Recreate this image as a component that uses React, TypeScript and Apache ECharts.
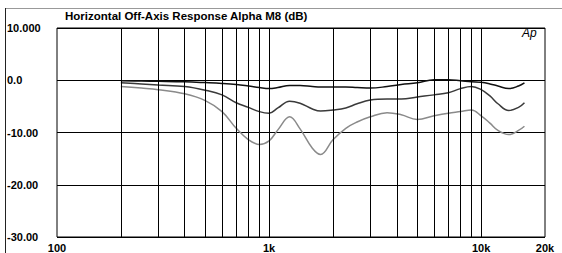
import React, { useEffect, useRef } from 'react';
import * as echarts from 'echarts';

const titleText = 'Horizontal Off-Axis Response Alpha M8 (dB)';
const logoText = 'Ap';

const freqs = [200, 250, 300, 400, 500, 600, 700, 800, 900, 1000, 1100, 1250, 1400, 1600, 1750, 2000, 2300, 2600, 3000, 3600, 4200, 5000, 6000, 7000, 8000, 9000, 10000, 11000, 12000, 13500, 15000, 16000];

const curveTop = [-0.1, -0.15, -0.2, -0.3, -0.45, -0.6, -0.8, -1.1, -1.4, -1.6, -1.4, -1.0, -1.0, -1.2, -1.3, -1.3, -1.3, -1.4, -1.5, -1.2, -0.8, -0.5, 0.1, 0.1, -0.1, -0.3, -0.4, -0.7, -1.1, -1.6, -1.1, -0.5];

const curveMid = [-0.5, -0.7, -0.9, -1.2, -1.9, -2.8, -4.3, -5.2, -6.0, -6.3, -5.3, -4.0, -4.4, -5.5, -5.9, -5.7, -5.3, -4.5, -3.8, -3.6, -3.6, -3.2, -2.8, -2.4, -1.6, -1.2, -1.8, -3.0, -4.5, -5.8, -5.2, -4.3];

const curveLow = [-1.2, -1.5, -1.8, -2.6, -3.9, -6.0, -9.2, -11.4, -12.3, -11.6, -9.5, -7.0, -9.3, -13.0, -14.2, -11.4, -9.2, -8.0, -7.0, -6.2, -6.6, -7.5, -6.8, -6.3, -6.0, -5.7, -6.8, -8.2, -9.6, -10.4, -9.6, -8.8];

const gridFreqs = [200, 300, 400, 500, 600, 700, 800, 900, 1000, 2000, 3000, 4000, 5000, 6000, 7000, 8000, 9000, 10000];

const xTickValues = [100, 1000, 10000, 20000];
const xTickLabels = ['100', '1k', '10k', '20k'];
const yTickValues = [10, 0, -10, -20, -30];
const yTickLabels = ['10.000', '0.0', '-10.00', '-20.00', '-30.00'];

const FONT = '"Liberation Sans", Arial, Helvetica, sans-serif';

export default function App() {
  const ref = useRef<HTMLDivElement>(null);
  useEffect(() => {
    if (!ref.current) return;
    const chart = echarts.init(ref.current, undefined, { renderer: 'svg' });
    const mk = (vals: number[]) => freqs.map((f, i) => [f, vals[i]]);
    chart.setOption({
      animation: false,
      backgroundColor: '#fff',
      textStyle: { fontFamily: FONT },
      title: {
        text: titleText,
        left: 65,
        top: 10,
        padding: 0,
        textStyle: { fontSize: 11.5, fontWeight: 'bold', color: '#000', fontFamily: FONT },
      },
      graphic: [
        { type: 'line', shape: { x1: 5, y1: 8.5, x2: 562, y2: 8.5 }, style: { stroke: '#999', lineWidth: 1 }, silent: true },
        { type: 'line', shape: { x1: 5.5, y1: 8, x2: 5.5, y2: 253 }, style: { stroke: '#222', lineWidth: 1 }, silent: true },
        {
          type: 'text',
          left: 522,
          top: 27,
          style: { text: logoText, fontSize: 12, fontStyle: 'italic', fontFamily: FONT, fill: '#000' },
          silent: true,
        },
      ],
      grid: {
        left: 57,
        top: 28,
        right: 17,
        bottom: 15,
        show: true,
        borderColor: '#000',
        borderWidth: 1,
        containLabel: false,
      },
      xAxis: {
        type: 'log',
        logBase: 10,
        min: 100,
        max: 20000,
        axisLine: { show: false },
        axisTick: { show: false },
        splitLine: { show: false },
        minorSplitLine: { show: false },
        axisLabel: {
          show: true,
          showMinLabel: true,
          showMaxLabel: true,
          margin: 5,
          fontSize: 11,
          fontWeight: 'bold',
          color: '#000',
          fontFamily: FONT,
          formatter: (v: number) => {
            const idx = xTickValues.findIndex((t) => Math.abs(t - v) / t < 1e-6);
            return idx >= 0 ? xTickLabels[idx] : '';
          },
        },
      },
      yAxis: {
        type: 'value',
        min: -30,
        max: 10,
        interval: 10,
        axisLine: { show: false },
        axisTick: { show: false },
        splitLine: { show: true, lineStyle: { color: '#000', width: 1 } },
        axisLabel: {
          align: 'left',
          margin: 50,
          fontSize: 11,
          fontWeight: 'bold',
          color: '#000',
          fontFamily: FONT,
          formatter: (v: number) => {
            const idx = yTickValues.findIndex((t) => Math.abs(t - v) < 1e-6);
            return idx >= 0 ? yTickLabels[idx] : '';
          },
        },
      },
      series: [
        {
          type: 'line',
          name: 'low',
          data: mk(curveLow),
          smooth: 0.4,
          symbol: 'none',
          lineStyle: { color: '#8a8a8a', width: 1.5 },
          markLine: {
            silent: true,
            symbol: ['none', 'none'],
            label: { show: false },
            lineStyle: { color: '#000', type: 'solid', width: 1 },
            data: gridFreqs.map((f) => ({ xAxis: f })),
          },
        },
        {
          type: 'line',
          name: 'mid',
          data: mk(curveMid),
          smooth: 0.4,
          symbol: 'none',
          lineStyle: { color: '#3a3a3a', width: 1.5 },
        },
        {
          type: 'line',
          name: 'top',
          data: mk(curveTop),
          smooth: 0.4,
          symbol: 'none',
          lineStyle: { color: '#111', width: 1.5 },
        },
      ],
    });
    return () => chart.dispose();
  }, []);
  return <div ref={ref} style={{ position: 'fixed', left: 0, top: 0, width: 562, height: 253 }} />;
}
